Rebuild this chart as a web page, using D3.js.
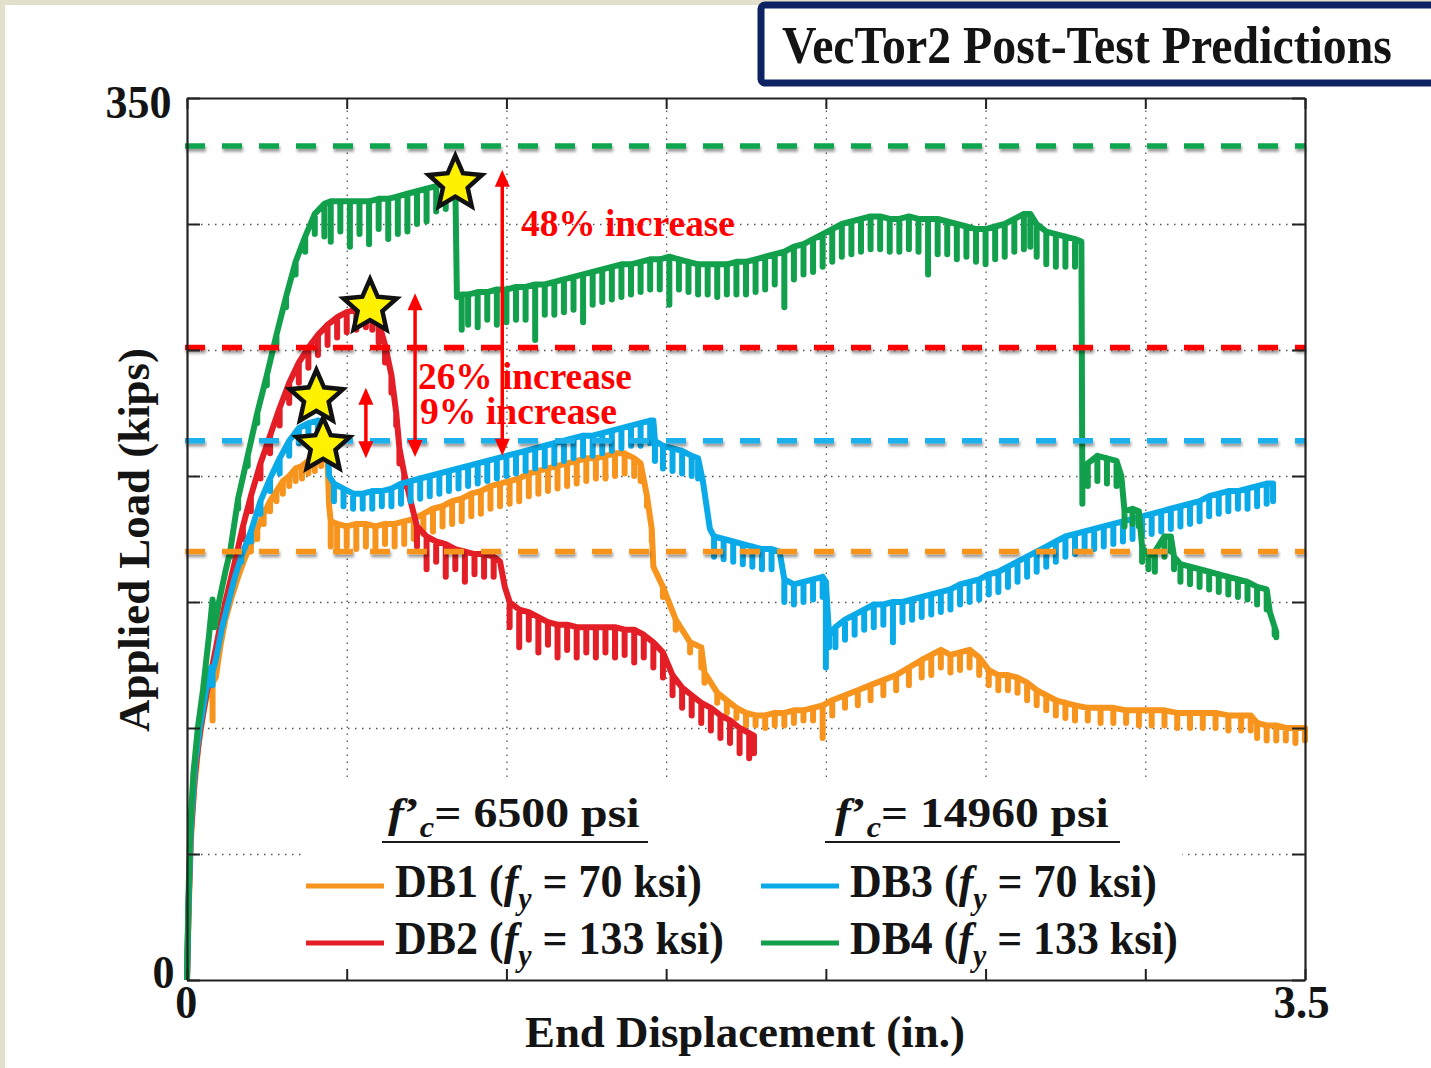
<!DOCTYPE html>
<html><head><meta charset="utf-8">
<script src="https://cdn.jsdelivr.net/npm/d3@7"></script>
<style>
body{margin:0;background:#fff;}
svg{display:block;}
</style>
</head><body>
<svg id="c" width="1431" height="1068"></svg>
<script>
// ---------------- DATA ----------------
const xTicks = [0,0.5,1,1.5,2,2.5,3,3.5];
const yTicks = [0,50,100,150,200,250,300,350];
const xTickLabels = [0,3.5];
const yTickLabels = [0,350];
const seriesNames = ["DB1","DB2","DB3","DB4"];
const fyValues = [70,133,70,133];
const fcValues = [6500,14960];
const seriesColors = ["#f7941d","#e31e26","#0aa9e8","#12a04c"];
// [displacement (in.), load (kips), load at bottom of unloading dip (kips)]
const db1 = [[0,0,0],[0.006,30,30],[0.012,55,55],[0.022,75,75],[0.035,92,92],[0.05,105,105],[0.065,115,115],[0.075,119,119],[0.08,118,103],[0.09,120,120],[0.105,133,133],[0.12,143,143],[0.14,152,152],[0.16,160,160],[0.18,167,167],[0.2,173,170],[0.22,179,175],[0.24,185,181],[0.26,190,186],[0.28,194,190],[0.3,198,193],[0.32,200,196],[0.34,203,198],[0.36,204,199],[0.38,206,201],[0.4,207,202],[0.42,208,204],[0.43,209,209],[0.44,206,206],[0.445,188,188],[0.45,182,172],[0.47,181,170],[0.5,180,172],[0.53,181,171],[0.56,181,172],[0.59,180,171],[0.62,181,173],[0.65,181,172],[0.68,182,173],[0.71,183,175],[0.74,185,177],[0.77,187,178],[0.8,188,180],[0.83,190,181],[0.86,191,182],[0.89,193,184],[0.92,194,185],[0.95,196,187],[0.98,197,188],[1.01,198,189],[1.04,199,190],[1.07,201,192],[1.1,202,193],[1.13,203,194],[1.16,204,195],[1.19,205,196],[1.22,206,197],[1.25,207,198],[1.28,207,199],[1.31,208,199],[1.34,209,200],[1.37,209,201],[1.4,207,200],[1.42,205,198],[1.44,192,188],[1.455,179,174],[1.46,164,164],[1.49,156,152],[1.53,143,139],[1.575,134,130],[1.61,132,124],[1.62,122,118],[1.66,114,110],[1.69,111,106],[1.72,108,104],[1.75,106,101],[1.78,105,101],[1.81,105,100],[1.84,106,101],[1.87,106,101],[1.9,107,102],[1.93,107,103],[1.96,108,103],[1.99,109,96],[2.02,111,105],[2.06,113,108],[2.1,115,109],[2.14,117,111],[2.18,119,113],[2.22,121,115],[2.26,124,117],[2.3,127,120],[2.33,129,121],[2.36,131,124],[2.39,129,122],[2.42,130,123],[2.45,131,124],[2.48,128,121],[2.51,123,117],[2.54,121,115],[2.57,121,115],[2.6,120,114],[2.63,118,111],[2.66,115,109],[2.69,113,107],[2.72,111,105],[2.75,110,104],[2.78,109,103],[2.82,108,103],[2.86,108,102],[2.9,108,102],[2.94,107,102],[2.98,107,101],[3.02,107,101],[3.06,107,101],[3.1,106,100],[3.14,106,100],[3.18,106,100],[3.22,106,100],[3.26,105,99],[3.3,105,99],[3.33,105,99],[3.35,102,96],[3.38,101,95],[3.41,101,95],[3.44,100,95],[3.47,100,94],[3.5,100,95]];
const db2 = [[0,0,0],[0.005,30,30],[0.012,58,58],[0.025,82,82],[0.04,98,98],[0.06,113,113],[0.08,125,125],[0.1,138,138],[0.12,150,150],[0.15,166,162],[0.175,180,175],[0.2,192,186],[0.23,205,199],[0.26,216,209],[0.29,227,220],[0.32,237,229],[0.35,245,237],[0.38,251,243],[0.41,256,248],[0.44,260,252],[0.47,263,255],[0.5,265,257],[0.53,266,258],[0.56,267,259],[0.58,266,258],[0.6,261,253],[0.62,252,245],[0.64,240,233],[0.655,225,220],[0.665,211,205],[0.68,201,196],[0.7,190,190],[0.72,180,172],[0.75,176,163],[0.78,174,166],[0.81,173,160],[0.84,171,163],[0.87,170,158],[0.9,169,161],[0.93,169,160],[0.96,168,160],[0.98,166,166],[0.995,156,156],[1.01,150,140],[1.04,147,132],[1.07,146,135],[1.1,144,130],[1.13,142,133],[1.16,141,128],[1.19,141,131],[1.22,140,128],[1.25,140,130],[1.28,140,128],[1.31,140,130],[1.34,140,128],[1.37,139,129],[1.4,139,126],[1.43,137,128],[1.46,134,124],[1.49,130,120],[1.52,121,113],[1.55,116,108],[1.58,113,105],[1.61,110,102],[1.64,108,99],[1.67,105,96],[1.7,103,94],[1.73,100,90],[1.76,98,88],[1.775,97,90]];
const db3 = [[0,0,0],[0.005,30,30],[0.012,60,60],[0.025,85,85],[0.04,100,100],[0.06,115,115],[0.075,124,124],[0.08,122,117],[0.09,127,127],[0.11,140,140],[0.13,150,150],[0.15,160,160],[0.17,168,166],[0.2,178,174],[0.23,190,185],[0.26,199,194],[0.29,207,201],[0.32,214,208],[0.35,219,213],[0.38,221,215],[0.41,222,216],[0.43,221,216],[0.44,214,214],[0.445,200,200],[0.46,197,190],[0.49,195,188],[0.52,193,187],[0.55,193,187],[0.58,194,187],[0.61,194,188],[0.64,195,188],[0.67,197,189],[0.7,198,190],[0.73,199,191],[0.76,200,192],[0.79,201,193],[0.82,202,194],[0.85,203,195],[0.88,204,196],[0.91,205,197],[0.94,206,198],[0.97,207,199],[1,208,200],[1.03,209,201],[1.06,210,202],[1.09,211,203],[1.12,212,204],[1.15,213,205],[1.18,214,206],[1.21,215,207],[1.24,216,208],[1.27,216,208],[1.3,217,209],[1.33,218,210],[1.36,219,211],[1.39,220,212],[1.42,221,212],[1.45,222,213],[1.46,222,222],[1.465,214,206],[1.49,212,203],[1.52,211,202],[1.55,210,201],[1.58,208,200],[1.6,207,199],[1.615,198,198],[1.637,179,179],[1.65,176,168],[1.68,175,167],[1.71,174,166],[1.74,173,165],[1.77,172,164],[1.8,171,163],[1.83,171,163],[1.855,170,170],[1.87,159,150],[1.9,157,149],[1.93,158,150],[1.96,159,151],[1.99,160,152],[2,158,124],[2.01,137,132],[2.03,140,132],[2.06,143,135],[2.09,145,137],[2.12,147,139],[2.15,149,140],[2.18,149,141],[2.21,150,134],[2.24,150,142],[2.27,151,143],[2.3,152,144],[2.33,153,145],[2.36,154,146],[2.39,155,147],[2.42,157,149],[2.45,158,150],[2.48,159,151],[2.51,161,153],[2.54,162,154],[2.57,164,156],[2.6,166,158],[2.63,168,160],[2.66,170,162],[2.69,172,164],[2.72,174,166],[2.75,176,168],[2.78,177,169],[2.81,178,170],[2.84,179,171],[2.87,180,172],[2.9,181,173],[2.93,182,174],[2.96,183,175],[2.99,184,176],[3.02,185,177],[3.05,186,178],[3.08,187,179],[3.11,188,180],[3.14,189,181],[3.17,190,182],[3.2,192,184],[3.23,193,185],[3.26,194,186],[3.29,194,187],[3.32,195,187],[3.35,196,188],[3.38,197,189],[3.4,197,190]];
const db4 = [[0,0,0],[0.004,30,30],[0.01,60,60],[0.02,82,82],[0.034,100,100],[0.05,115,115],[0.07,138,138],[0.08,151,151],[0.087,140,140],[0.1,150,150],[0.12,162,162],[0.135,170,168],[0.16,191,187],[0.19,208,204],[0.22,225,221],[0.25,240,236],[0.28,256,252],[0.31,271,267],[0.34,285,280],[0.37,295,289],[0.4,304,296],[0.43,308,295],[0.45,309,293],[0.48,309,297],[0.51,309,291],[0.54,309,296],[0.57,309,292],[0.6,310,298],[0.63,310,294],[0.66,311,296],[0.69,312,297],[0.72,313,300],[0.75,314,301],[0.78,315,305],[0.81,316,306],[0.84,316,313],[0.845,271,271],[0.86,272,258],[0.88,272,260],[0.91,273,259],[0.94,273,262],[0.97,274,260],[1,274,261],[1.03,275,262],[1.06,275,262],[1.09,276,254],[1.12,276,264],[1.15,277,264],[1.18,278,265],[1.21,279,266],[1.24,280,261],[1.27,281,268],[1.3,282,269],[1.33,283,270],[1.36,284,271],[1.39,284,272],[1.42,285,273],[1.45,286,274],[1.48,286,274],[1.51,287,268],[1.54,286,274],[1.57,285,273],[1.6,284,272],[1.63,284,272],[1.66,284,271],[1.69,284,272],[1.72,285,272],[1.75,285,272],[1.78,286,273],[1.81,287,274],[1.84,288,276],[1.87,289,267],[1.9,291,278],[1.93,292,280],[1.96,294,281],[1.99,296,283],[2.02,298,285],[2.05,300,287],[2.08,301,288],[2.11,302,289],[2.14,303,290],[2.17,303,290],[2.2,302,289],[2.23,302,289],[2.26,303,290],[2.29,302,289],[2.32,302,280],[2.35,302,288],[2.38,301,288],[2.41,300,286],[2.44,299,287],[2.47,298,285],[2.5,298,284],[2.53,299,286],[2.56,300,287],[2.59,302,289],[2.62,304,290],[2.64,304,291],[2.66,300,287],[2.69,297,284],[2.72,296,283],[2.75,295,283],[2.78,294,283],[2.8,293,293],[2.803,195,189],[2.82,205,196],[2.85,208,198],[2.88,207,197],[2.91,206,196],[2.925,200,200],[2.935,186,180],[2.96,187,181],[2.98,186,180],[2.99,172,166],[3.01,168,163],[3.03,170,162],[3.06,176,168],[3.08,176,170],[3.09,168,163],[3.11,165,158],[3.14,164,157],[3.17,163,156],[3.2,162,155],[3.23,161,154],[3.26,160,153],[3.29,159,152],[3.32,158,151],[3.35,156,149],[3.38,155,147],[3.39,146,146],[3.405,140,137],[3.41,138,136]];
// peak-load reference lines (kips)
const peakLineValues = [170,251,214,331]; // DB1, DB2, DB3, DB4
const peakLineColors = ["#f7941d","#ff0000","#1ab0ec","#0ea64f"];
// peak markers [in., kips]
const starPoints = [[0.426,212],[0.573,267],[0.405,231],[0.84,316]];
// increase arrows [in., low kips, high kips]
const arrowData = [[0.56,207,235],[0.714,207.5,272.5],[0.987,208,321.5]];
const annotationTexts = ["48% increase","26% increase","9% increase"];

const FF = `"Liberation Serif", "Times New Roman", serif`;

// ---------------- CHART ----------------
const svg = d3.select("#c").style("font-family",FF).style("font-weight","bold");
const x = d3.scaleLinear().domain([0,3.5]).range([187,1305]);
const y = d3.scaleLinear().domain([0,350]).range([980,98]);

const defs = svg.append("defs");
defs.append("filter").attr("id","sh").attr("x","-5%").attr("y","-200%").attr("width","110%").attr("height","500%")
  .append("feDropShadow").attr("dx",1).attr("dy",3).attr("stdDeviation",1.6)
  .attr("flood-color","#000").attr("flood-opacity",0.4);

// page decoration
svg.append("rect").attr("x",0).attr("y",0).attr("width",1431).attr("height",5).attr("fill","#e2e0cb");
svg.append("rect").attr("x",0).attr("y",0).attr("width",5).attr("height",1068).attr("fill","#e2e0cb");

// title box
svg.append("rect").attr("x",761).attr("y",5).attr("width",700).attr("height",78).attr("rx",4)
  .attr("fill","#fff").attr("stroke","#0c2262").attr("stroke-width",7);

function T(sel){ return sel.attr("font-family",FF).attr("font-weight","bold").attr("fill","#141414"); }
function fit(t, w){
  const bb = t.node().getBBox();
  const s = w / bb.width, ax = bb.x;
  t.attr("transform",`translate(${ax},0) scale(${s},1) translate(${-ax},0)`);
}
const title = T(svg.append("text")).attr("x",782).attr("y",63).attr("font-size",53).text("VecTor2 Post-Test Predictions");
fit(title,610);

// gridlines
const grid = svg.append("g");
grid.append("g").attr("transform","translate(0,980)")
  .call(d3.axisBottom(x).tickValues(xTicks.slice(1,-1)).tickSize(-(980-98)).tickFormat(""));
grid.append("g").attr("transform","translate(187,0)")
  .call(d3.axisLeft(y).tickValues(yTicks.slice(1,-1)).tickSize(-(1305-187)).tickFormat(""));
grid.selectAll(".domain").remove();
grid.selectAll("line").attr("stroke","#555").attr("stroke-width",1.3).attr("stroke-dasharray","1.5,5.5");

// legend background (hides grid)
svg.append("rect").attr("x",304).attr("y",782).attr("width",878).attr("height",196).attr("fill","#fff");

// curves
function expand(arr){
  const pts=[];
  arr.forEach(d=>{ pts.push([d[0],d[1]]); if(d[2]<d[1]){ pts.push([d[0],d[2]]); pts.push([d[0],d[1]]);} });
  return pts;
}
const line = d3.line().x(d=>x(d[0])).y(d=>y(d[1]));
const allSeries = [db1,db2,db3,db4];
svg.append("g").selectAll("path").data(allSeries).join("path")
  .attr("d",d=>line(expand(d))).attr("fill","none")
  .attr("stroke",(d,i)=>seriesColors[i]).attr("stroke-width",6)
  .attr("stroke-linejoin","round").attr("stroke-linecap","butt");

// peak reference lines
svg.append("g").attr("filter","url(#sh)").selectAll("line").data(peakLineValues).join("line")
  .attr("x1",x(0)-2).attr("x2",x(3.5)).attr("y1",d=>y(d)).attr("y2",d=>y(d))
  .attr("stroke",(d,i)=>peakLineColors[i]).attr("stroke-width",5.5).attr("stroke-dasharray","20,17");

// axes frame with inward ticks
const axG = svg.append("g");
axG.append("g").attr("transform","translate(0,980)").call(d3.axisBottom(x).tickValues(xTicks).tickSize(-11).tickSizeOuter(0).tickFormat(""));
axG.append("g").attr("transform","translate(0,98)").call(d3.axisTop(x).tickValues(xTicks).tickSize(-11).tickSizeOuter(0).tickFormat(""));
axG.append("g").attr("transform","translate(187,0)").call(d3.axisLeft(y).tickValues(yTicks).tickSize(-13).tickSizeOuter(0).tickFormat(""));
axG.append("g").attr("transform","translate(1305,0)").call(d3.axisRight(y).tickValues(yTicks).tickSize(-13).tickSizeOuter(0).tickFormat(""));
axG.selectAll(".domain").attr("stroke","#222").attr("stroke-width",2.2);
axG.selectAll("line").attr("stroke","#222").attr("stroke-width",2);

// tick labels
yTickLabels.forEach(v=>{
  const t = T(svg.append("text")).attr("x",176).attr("y",y(v)+(v===0?8:20)).attr("text-anchor","end").attr("font-size",47).text(v);
  fit(t, v===0?22:66);
});
xTickLabels.forEach(v=>{
  const t = T(svg.append("text")).attr("x",x(v)+(v===0?0:-2)).attr("y",1018).attr("text-anchor","middle").attr("font-size",47).text(v);
  fit(t, v===0?22:56);
});

// axis titles
const xl = T(svg.append("text")).attr("x",525).attr("y",1047).attr("font-size",45).text("End Displacement (in.)");
fit(xl,440);
const yl = T(svg.append("text")).attr("text-anchor","middle").attr("font-size",45).text("Applied Load (kips)");
const ylw = yl.node().getBBox().width;
yl.attr("transform",`translate(149,540) rotate(-90) scale(${384/ylw},1)`);

// stars
function starPath(cx,cy,R,r){
  const p=[];
  for(let k=0;k<10;k++){
    const a=-Math.PI/2+k*Math.PI/5, rr=k%2?r:R;
    p.push([cx+rr*Math.cos(a),cy+rr*Math.sin(a)]);
  }
  return "M"+p.map(q=>q.join(",")).join("L")+"Z";
}
svg.append("g").selectAll("path").data(starPoints).join("path")
  .attr("d",d=>starPath(x(d[0]),y(d[1]),28,13))
  .attr("fill","#fff200").attr("stroke","#111").attr("stroke-width",4.5).attr("stroke-linejoin","miter");

// arrows
const arrG = svg.append("g");
arrowData.forEach(a=>{
  const ax=x(a[0]), yl0=y(a[1]), yh=y(a[2]), hl=17, hw=7.5;
  arrG.append("line").attr("x1",ax).attr("x2",ax).attr("y1",yh+hl-2).attr("y2",yl0-hl+2)
    .attr("stroke","#ff0000").attr("stroke-width",3.5);
  arrG.append("path").attr("d",`M${ax},${yh}L${ax-hw},${yh+hl}L${ax+hw},${yh+hl}Z`).attr("fill","#ff0000");
  arrG.append("path").attr("d",`M${ax},${yl0}L${ax-hw},${yl0-hl}L${ax+hw},${yl0-hl}Z`).attr("fill","#ff0000");
});
const annPos = [[521,236,214],[418,389,214],[420,424,197]];
annotationTexts.forEach((t,i)=>{
  const tt = T(svg.append("text")).attr("x",annPos[i][0]).attr("y",annPos[i][1]).attr("font-size",37)
    .attr("fill","#ff0000").text(t);
  fit(tt,annPos[i][2]);
});

// legend
function richText(px,py,parts,size,w){
  const t = T(svg.append("text")).attr("x",px).attr("y",py).attr("font-size",size);
  let shift=0;
  parts.forEach(p=>{
    const ts = t.append("tspan").text(p.t);
    if(p.it) ts.attr("font-style","italic");
    if(p.sub){ ts.attr("font-size",size*0.68).attr("dy",size*0.25-shift); shift=size*0.25; }
    else if(shift){ ts.attr("dy",-shift); shift=0; }
  });
  fit(t,w);
  return t;
}
const colX = [[306,384,395],[761,839,850]];
const headerPos = [[388,827,252,382,648],[835,827,274,825,1120]];
fcValues.forEach((fc,c)=>{
  const h = headerPos[c];
  richText(h[0],h[1],[{t:"f",it:1},{t:"’"},{t:"c",it:1,sub:1},{t:"= "+fc+" psi"}],42,h[2]);
  svg.append("line").attr("x1",h[3]).attr("x2",h[4]).attr("y1",842).attr("y2",842).attr("stroke","#1a1a1a").attr("stroke-width",2);
});
const entryW = [307,329,307,328];
seriesNames.forEach((n,i)=>{
  const c = i<2?0:1, r = i%2;
  const ly = 886 + r*57;
  svg.append("line").attr("x1",colX[c][0]).attr("x2",colX[c][1]).attr("y1",ly).attr("y2",ly)
    .attr("stroke",seriesColors[i]).attr("stroke-width",5);
  richText(colX[c][2],ly+11,[{t:n+" ("},{t:"f",it:1},{t:"y",it:1,sub:1},{t:" = "+fyValues[i]+" ksi)"}],47,entryW[i]);
});
</script>
</body></html>
